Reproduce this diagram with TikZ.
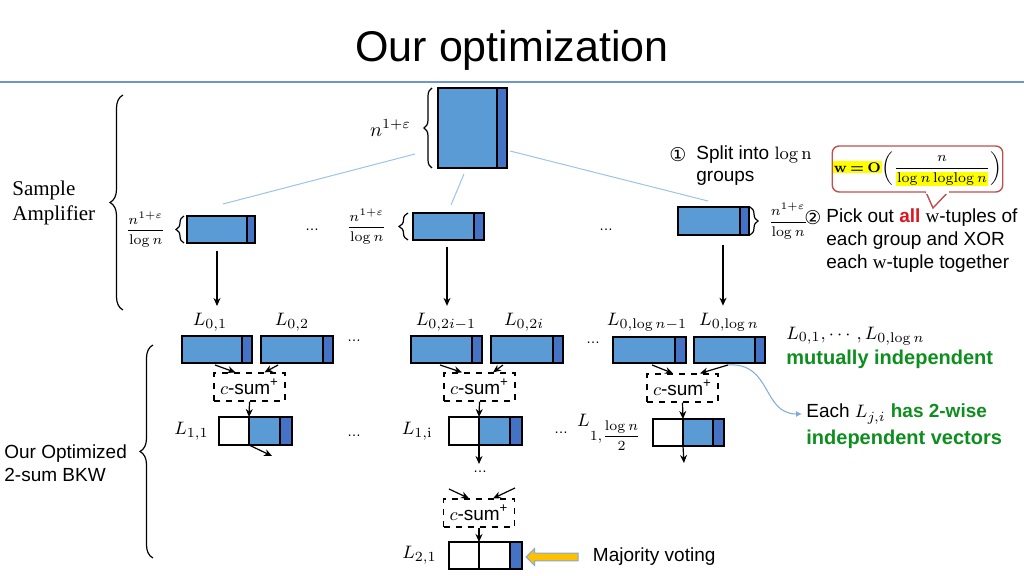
\documentclass[tikz,border=0pt]{standalone}
\usepackage[no-math]{fontspec}
\usepackage{amsmath}
\usepackage{xcolor}
\setmainfont{Liberation Sans}
\newfontfamily\serifface{Liberation Serif}
\newfontfamily\symface{DejaVu Sans}
\usetikzlibrary{arrows.meta,positioning,calc,decorations.pathreplacing,shapes.arrows}
\definecolor{opblue}{HTML}{5B9BD5}
\definecolor{opdark}{HTML}{4472C4}
\definecolor{oplight}{HTML}{9DC3E6}
\definecolor{opline}{HTML}{6A98CC}
\definecolor{opcurvec}{HTML}{7FAADB}
\definecolor{opgreen}{HTML}{0E8E1E}
\definecolor{opred}{HTML}{E0141E}
\definecolor{opcall}{HTML}{C0504D}
\definecolor{opyellow}{HTML}{FFC000}
\definecolor{ophl}{HTML}{FFFF00}
\newcommand{\opwbound}{{\setlength{\fboxsep}{0.5pt}%
  \colorbox{ophl}{\fontsize{7.5}{9}\selectfont\boldmath$\mathrm{w}\,{=}\,\mathrm{O}$}%
  $\biggl(\dfrac{n}{\colorbox{ophl}{$\log n\,\mathrm{loglog}\,n$}}\biggr)$}}
\tikzset{
  opblk/.style={draw=black, line width=0.6pt, fill=opblue, inner sep=0pt, outer sep=0pt},
  opstrip/.style={opblk, fill=opdark,
    append after command={(\tikzlastnode.north west) edge[line width=1.2pt] (\tikzlastnode.south west)}},
  opwhite/.style={opblk, fill=white},
  opsum/.style={draw=black, dashed, line width=0.6pt, minimum width=35.5pt, minimum height=14pt, inner sep=0pt},
  oparrow/.style={-{Stealth[length=4pt,width=3.5pt]}, line width=0.6pt},
  opthin/.style={draw=oplight, line width=0.5pt},
  opcurve/.style={-{Latex[length=3pt,width=3pt]}, draw=opcurvec, line width=0.5pt},
  opbrace/.style={decorate, decoration={brace, amplitude=#1}, line width=0.6pt},
  opbrace/.default=4pt,
  opfrac/.style={font=\fontsize{7.5}{9}\selectfont, inner sep=1pt},
  oplab/.style={inner sep=1pt},
  optext/.style={anchor=west, align=left, inner sep=0pt},
  opdots/.style={font=\fontsize{7}{8}\selectfont, inner sep=0pt},
  opnum/.style={inner sep=0pt, font=\symface\fontsize{9.5}{10}\selectfont},
  opvote/.style={single arrow, shape border rotate=180, fill=opyellow, draw=opcurvec, line width=0.5pt,
    minimum height=26pt, minimum width=8pt, inner sep=1.7pt, single arrow head extend=2.3pt}
}
\begin{document}
\begin{tikzpicture}[x=0.5pt, y=-0.5pt, font=\fontsize{9.5}{11.5}\selectfont]
\useasboundingbox (0,0) rectangle (1024,576);
% title
\node[font=\fontsize{21.5}{25}\selectfont] (title) at (512,50) {Our optimization};
\draw[draw=opline, line width=1.3pt] (0,82) -- (1024,82);

% samples and the log n groups
\node[opblk, anchor=north west, minimum width=29.5pt, minimum height=40pt] (top) at (438,88) {};
\node[opstrip, minimum width=5pt, minimum height=40pt, right=0pt of top] (tops) {};
\draw[opbrace=4pt] ([xshift=-3pt]top.south west) -- ([xshift=-3pt]top.north west);
\node[left=10pt of top, font=\fontsize{10}{12}\selectfont] (topn) {$n^{1+\varepsilon}$};

\node[opblk, anchor=north west, minimum width=30pt, minimum height=13.5pt] (grpa) at (187,216) {};
\node[opstrip, minimum width=4pt, minimum height=13.5pt, right=0pt of grpa] (grpas) {};
\node[opblk, anchor=north west, minimum width=30.5pt, minimum height=13.5pt] (grpb) at (413,213) {};
\node[opstrip, minimum width=5pt, minimum height=13.5pt, right=0pt of grpb] (grpbs) {};
\node[opblk, anchor=north west, minimum width=31pt, minimum height=14pt] (grpc) at (678,207) {};
\node[opstrip, minimum width=4.5pt, minimum height=14pt, right=0pt of grpc] (grpcs) {};
\draw[opbrace=4pt] ([xshift=-1.5pt]grpa.south west) -- ([xshift=-1.5pt]grpa.north west);
\draw[opbrace=4.5pt] ([xshift=-2.5pt]grpb.south west) -- ([xshift=-2.5pt]grpb.north west);
\draw[opbrace=4pt] ([xshift=0.5pt]grpcs.north east) -- ([xshift=0.5pt]grpcs.south east);
\node[opfrac, left=9.5pt of grpa] (fraca) {$\dfrac{n^{1+\varepsilon}}{\log n}$};
\node[opfrac, left=12pt of grpb] (fracb) {$\dfrac{n^{1+\varepsilon}}{\log n}$};
\node[opfrac, right=8.5pt of grpcs] (fracc) {$\dfrac{n^{1+\varepsilon}}{\log n}$};
\node[opdots] (d1) at (312,230) {\dots};
\node[opdots] (d2) at (606,230) {\dots};
\draw[opthin] ([xshift=-11.5pt,yshift=-13pt]top.west) -- ([xshift=3pt,yshift=6pt]grpa.north);
\draw[opthin] ([xshift=-1.75pt,yshift=-3pt]top.south) -- ([xshift=3.75pt,yshift=4pt]grpb.north);
\draw[opthin] ([xshift=1.5pt,yshift=-11.5pt]tops.east) -- ([xshift=-0.5pt,yshift=3pt]grpc.north);

% level 0 lists
\node (l01) at (210,322) {$L_{0,1}$};
\node (l02) at (292,322) {$L_{0,2}$};
\node (l03) at (446,322) {$L_{0,2i-1}$};
\node (l04) at (524,322) {$L_{0,2i}$};
\node (l05) at (647,322) {$L_{0,\log n-1}$};
\node (l06) at (729,322) {$L_{0,\log n}$};
\draw[oparrow] ([yshift=-4pt]grpa.south) -- (grpa.south |- l01.north);
\draw[oparrow] ([xshift=1.75pt,yshift=-3.5pt]grpb.south) -- ([xshift=1.75pt]grpb.south |- l03.north);
\draw[oparrow] ([xshift=7pt,yshift=-5pt]grpc.south) -- ([xshift=7pt]grpc.south |- l06.north);

\node[opblk, anchor=north west, minimum width=30pt, minimum height=13.5pt] (r1) at (182,336) {};
\node[opstrip, minimum width=5pt, minimum height=13.5pt, right=0pt of r1] (r1s) {};
\node[opblk, anchor=north west, minimum width=31pt, minimum height=13.5pt] (r2) at (261,336) {};
\node[opstrip, minimum width=5pt, minimum height=13.5pt, right=0pt of r2] (r2s) {};
\node[opblk, anchor=north west, minimum width=30.5pt, minimum height=13.5pt] (r3) at (411,336) {};
\node[opstrip, minimum width=5pt, minimum height=13.5pt, right=0pt of r3] (r3s) {};
\node[opblk, anchor=north west, minimum width=31pt, minimum height=13.5pt] (r4) at (491,336) {};
\node[opstrip, minimum width=5pt, minimum height=13.5pt, right=0pt of r4] (r4s) {};
\node[opblk, anchor=north west, minimum width=31pt, minimum height=13pt] (r5) at (613,337) {};
\node[opstrip, minimum width=5.5pt, minimum height=13pt, right=0pt of r5] (r5s) {};
\node[opblk, anchor=north west, minimum width=30.5pt, minimum height=13pt] (r6) at (694,337) {};
\node[opstrip, minimum width=5pt, minimum height=13pt, right=0pt of r6] (r6s) {};
\node[opdots] (d3) at (354,341) {\dots};
\node[opdots] (d4) at (593,343) {\dots};

% c-sum steps
\node[opsum] (cs1) at (249.5,387) {$c$-sum\textsuperscript{+}};
\node[opsum] (cs2) at (479.5,387) {$c$-sum\textsuperscript{+}};
\node[opsum] (cs3) at (682.5,388) {$c$-sum\textsuperscript{+}};
\draw[oparrow] ([xshift=1.5pt,yshift=-1pt]r1.south) -- ([xshift=-7pt]cs1.north);
\draw[oparrow] ([xshift=-7pt,yshift=-1pt]r2.south) -- ([xshift=7.5pt]cs1.north);
\draw[oparrow] ([xshift=-0.75pt,yshift=-1pt]r3.south) -- ([xshift=-8.75pt]cs2.north);
\draw[oparrow] ([xshift=-9.5pt,yshift=-1pt]r4.south) -- ([xshift=6.75pt]cs2.north);
\draw[oparrow] ([xshift=4pt,yshift=-1pt]r5.south) -- ([xshift=-4.75pt]cs3.north);
\draw[oparrow] ([xshift=1.75pt,yshift=-1pt]r6.south) -- ([xshift=8.75pt]cs3.north);

% level 1 lists
\node[opwhite, anchor=north west, minimum width=15pt, minimum height=14pt] (m1w) at (219,417) {};
\node[opblk, minimum width=15.5pt, minimum height=14pt, right=0pt of m1w] (m1) {};
\node[opstrip, minimum width=6pt, minimum height=14pt, right=0pt of m1] (m1s) {};
\node[opwhite, anchor=north west, minimum width=15pt, minimum height=14pt] (m2w) at (449,417) {};
\node[opblk, minimum width=15.5pt, minimum height=14pt, right=0pt of m2w] (m2) {};
\node[opstrip, minimum width=6pt, minimum height=14pt, right=0pt of m2] (m2s) {};
\node[opwhite, anchor=north west, minimum width=15pt, minimum height=13.5pt] (m3w) at (653,419) {};
\node[opblk, minimum width=15pt, minimum height=13.5pt, right=0pt of m3w] (m3) {};
\node[opstrip, minimum width=5.5pt, minimum height=13.5pt, right=0pt of m3] (m3s) {};
\node[oplab, left=4pt of m1w] (lab11) {$L_{1,1}$};
\node[oplab, left=7pt of m2w] (lab1i) {$L_{1,\mathrm{i}}$};
\node[oplab, left=4.5pt of m3w] (lab1n) {$L_{1,\text{\fontsize{7}{8}\selectfont$\dfrac{\log n}{2}$}}$};
\node[opdots] (d5) at (354,436) {\dots};
\node[opdots] (d6) at (561,433) {\dots};
\draw[oparrow] (cs1.south) -- (m1.north west);
\draw[oparrow] (cs2.south) -- (m2.north west);
\draw[oparrow] (cs3.south) -- (m3.north west);
\coordinate (e1) at (272,456);
\coordinate (e2) at (479,464);
\coordinate (e3) at (684,463);
\draw[oparrow] (m1.south west) -- (e1);
\draw[oparrow] (m2.south west) -- (e2);
\draw[oparrow] (m3.south west) -- (e3);

% level 2
\node[opdots] (d7) at (480,472) {\dots};
\node[opsum] (cs4) at (479,513) {$c$-sum\textsuperscript{+}};
\coordinate (f1) at (449,489);
\coordinate (f2) at (515,488);
\draw[oparrow] (f1) -- ([xshift=-5pt]cs4.north);
\draw[oparrow] (f2) -- ([xshift=7pt]cs4.north);
\node[opwhite, anchor=north west, minimum width=15pt, minimum height=13.5pt] (l2w) at (449,542) {};
\node[opwhite, minimum width=15.5pt, minimum height=13.5pt, right=0pt of l2w] (l2b) {};
\node[opstrip, minimum width=6pt, minimum height=13.5pt, right=0pt of l2b] (l2s) {};
\node[oplab, left=5pt of l2w] (lab21) {$L_{2,1}$};
\draw[oparrow] (cs4.south) -- (l2b.north west);
\node[opvote] (vote) at (554,557) {};
\node[inner sep=0pt, right=7pt of vote] (votetxt) {Majority voting};

% left braces
\draw[opbrace=6.5pt] (123,310) -- (123,95);
\node[optext, font=\serifface\fontsize{10.5}{12.5}\selectfont] (samp) at (12,203) {Sample\\Amplifier};
\draw[opbrace=6.5pt] (153,558) -- (153,345);
\node[optext] (bkw) at (4,463) {Our Optimized\\2-sum BKW};

% notes on the right
\node[opnum] (c1) at (678,155) {①};
\node[optext, font=\fontsize{9.5}{11}\selectfont] (split) at (696,166) {Split into $\log\mathrm{n}$\\groups};
\coordinate (wtip) at (933,208);
\draw[draw=opcall, fill=white, line width=0.7pt] (925,190) -- (wtip) -- (950,190);
\node[draw=opcall, fill=white, rounded corners=3.5pt, line width=0.7pt, font=\fontsize{7}{8.5}\selectfont,
  minimum width=79.5pt, minimum height=23pt, inner sep=0.3pt] (wbox) at (917.5,169) {\opwbound};
\draw[draw=white, line width=1.2pt] ([xshift=4.2pt]wbox.south) -- ([xshift=15.8pt]wbox.south);
\node[opnum] (c2) at (813,218) {②};
\node[optext] (pick) at (826,241) {Pick out {\color{opred}\bfseries all} {\serifface w}-tuples of\\each group and XOR\\each {\serifface w}-tuple together};
\node[optext] (indep) at (786,336) {$L_{0,1},\cdots,L_{0,\log n}$};
\node[optext, text=opgreen, font=\bfseries] (mutual) at (786,359) {mutually independent};
\node[optext] (each1) at (806,414) {Each $L_{j,i}$ {\color{opgreen}\bfseries has 2-wise}};
\node[optext, text=opgreen, font=\bfseries] (each2) at (806,439) {independent vectors};
\draw[opcurve, shorten >=2pt] ([xshift=1.75pt,yshift=-1pt]r6.south) .. controls (772,362) and (762,414) .. (each1.west);
\end{tikzpicture}
\end{document}
